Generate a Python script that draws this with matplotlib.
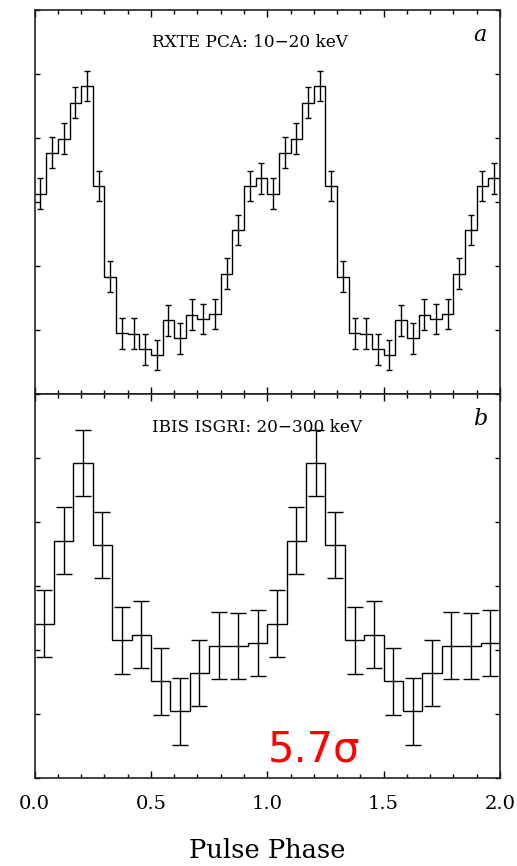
import matplotlib
matplotlib.use('Agg')
import matplotlib.pyplot as plt
import numpy as np
from matplotlib.ticker import MultipleLocator, NullFormatter

# RXTE PCA 10-20 keV pulse profile (two cycles, 20 bins per cycle)
rxte_rate = [3.13, 3.77, 3.99, 4.55, 4.81, 3.25, 1.83, 0.95, 0.94, 0.70,
             0.61, 1.15, 0.87, 1.24, 1.17, 1.25, 1.88, 2.56, 3.25, 3.37,
             3.13, 3.77, 3.99, 4.55, 4.81, 3.25, 1.83, 0.95, 0.94, 0.70,
             0.61, 1.15, 0.87, 1.24, 1.17, 1.25, 1.88, 2.56, 3.25, 3.37]
rxte_err = [0.24] * 40

# IBIS ISGRI 20-300 keV pulse profile (two cycles, 12 bins per cycle)
isgri_rate = [2.41, 3.71, 4.92, 3.64, 2.15, 2.24, 1.51, 1.04, 1.64, 2.07, 2.06, 2.11,
              2.41, 3.71, 4.92, 3.64, 2.15, 2.24, 1.51, 1.04, 1.64, 2.07, 2.06, 2.11]
isgri_err = [0.52] * 24

serif = 'DejaVu Serif'

fig, (ax1, ax2) = plt.subplots(2, 1, figsize=(5.17, 8.66), dpi=100, sharex=True)
fig.subplots_adjust(left=0.067, right=0.967, top=0.9885, bottom=0.1016, hspace=0)


def draw_profile(ax, rate, err, capsize):
    n = len(rate)
    edges = np.linspace(0, 2, n + 1)
    centers = 0.5 * (edges[:-1] + edges[1:])
    ax.stairs(rate, edges, baseline=None, color='black', lw=1.0)
    ax.errorbar(centers, rate, yerr=err, fmt='none', ecolor='black',
                elinewidth=1.0, capsize=capsize, capthick=1.0)
    ax.set_xlim(0, 2)
    ax.set_ylim(0, 6)
    ax.xaxis.set_major_locator(MultipleLocator(0.5))
    ax.xaxis.set_minor_locator(MultipleLocator(0.1))
    ax.yaxis.set_major_locator(MultipleLocator(1))
    ax.yaxis.set_major_formatter(NullFormatter())
    ax.tick_params(axis='x', which='major', direction='in', top=True, length=5, width=1)
    ax.tick_params(axis='x', which='minor', direction='in', top=True, length=3, width=1)
    ax.tick_params(axis='y', which='major', direction='in', right=True, length=3.5, width=1)
    for s in ax.spines.values():
        s.set_linewidth(1.2)
        s.set_color('#222222')


draw_profile(ax1, rxte_rate, rxte_err, 2.5)
draw_profile(ax2, isgri_rate, isgri_err, 5.5)

ax1.text(0.252, 0.914, 'RXTE PCA: 10\u221220 keV', transform=ax1.transAxes,
         ha='left', va='center', fontsize=12.2, family=serif)
ax2.text(0.252, 0.912, 'IBIS ISGRI: 20\u2212300 keV', transform=ax2.transAxes,
         ha='left', va='center', fontsize=12.2, family=serif)
ax1.text(0.957, 0.935, 'a', transform=ax1.transAxes, ha='center', va='center',
         fontsize=16, family=serif, style='italic')
ax2.text(0.957, 0.936, 'b', transform=ax2.transAxes, ha='center', va='center',
         fontsize=16, family=serif, style='italic')
ax2.text(0.50, 0.075, '5.7\u03c3', transform=ax2.transAxes, ha='left', va='center',
         fontsize=30, color='#ff0000')

ax2.tick_params(axis='x', which='major', labelsize=14, pad=12)
for lab in ax2.get_xticklabels():
    lab.set_family(serif)
ax2.xaxis.set_major_formatter(plt.FormatStrFormatter('%.1f'))
ax2.set_xlabel('Pulse Phase', fontsize=18.5, family=serif, labelpad=18)

fig.savefig('out.png', dpi=100)
